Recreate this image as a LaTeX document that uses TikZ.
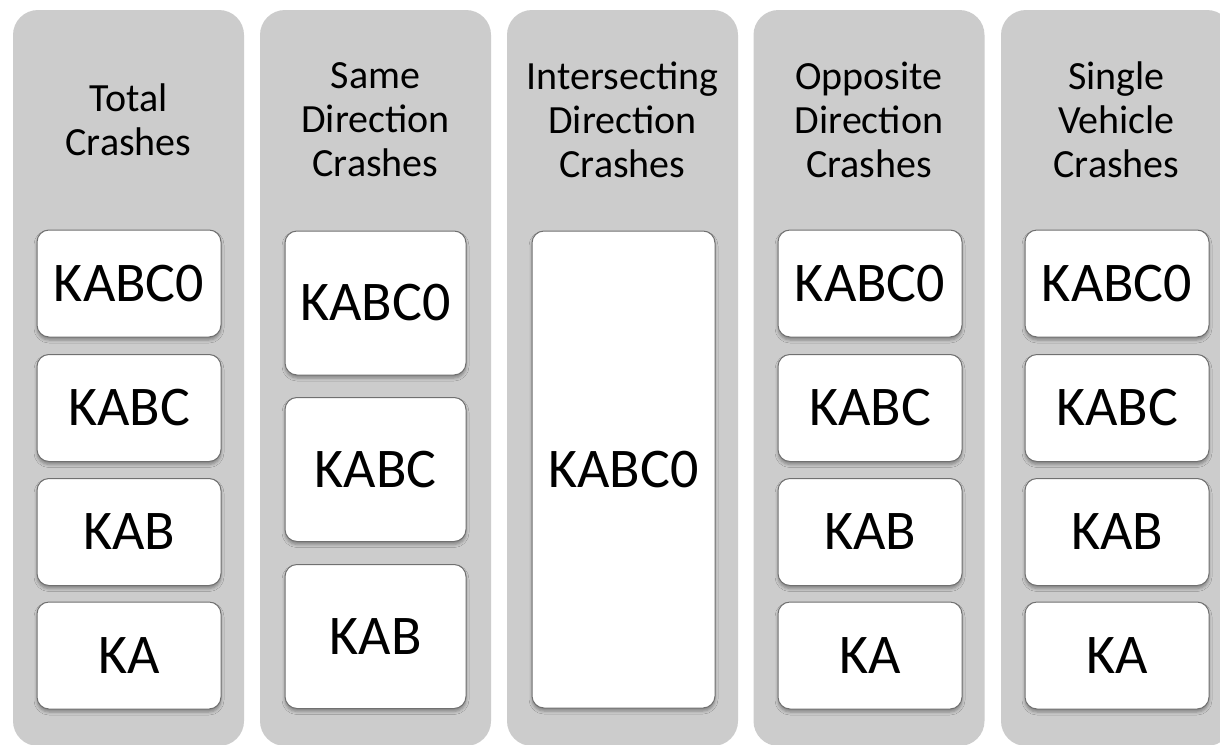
\documentclass[tikz,border=0pt]{standalone}
\usepackage{fontspec}
\setmainfont{Carlito}
\usetikzlibrary{shadows.blur}
\definecolor{colgray}{HTML}{CCCCCC}
\definecolor{boxline}{HTML}{707070}
\begin{document}
\begin{tikzpicture}[x=1pt,y=-1pt,
  column/.style={fill=colgray, draw=none, rounded corners=25pt, inner sep=0pt,
    minimum width=231pt, minimum height=736pt},
  header/.style={align=center, font=\fontsize{40}{44}\selectfont, text=black, inner sep=0pt},
  cbox/.style={fill=white, draw=boxline, line width=1pt, rounded corners=12pt, inner sep=0pt,
    minimum width=184pt, font=\fontsize{56}{60}\selectfont, text=black,
    blur shadow={shadow xshift=0pt, shadow yshift=-3pt, shadow blur radius=3pt, shadow opacity=35}}]
\useasboundingbox (0,0) rectangle (1220,744);
\clip (0,0) rectangle (1220,744);
\fill[white] (0,0) rectangle (1220,744);
% columns
\node[column] (col1) at (128.5,378) {};
\node[column] (col2) at (375.5,378) {};
\node[column] (col3) at (622.5,378) {};
\node[column] (col4) at (869,378) {};
\node[column] (col5) at (1116.5,378) {};
% headers
\node[header] (h1) at (128.5,120) {Total\\Crashes};
\node[header] (h2) at (375.5,120) {Same\\Direction\\Crashes};
\node[header] (h3) at (622.5,120) {Intersecting\\Direction\\Crashes};
\node[header] (h4) at (869,120) {Opposite\\Direction\\Crashes};
\node[header] (h5) at (1116.5,120) {Single\\Vehicle\\Crashes};
% column 1
\node[cbox, minimum height=107pt] (a1) at (129,283.5) {KABC0};
\node[cbox, minimum height=107pt] (a2) at (129,408) {KABC};
\node[cbox, minimum height=107pt] (a3) at (129,532) {KAB};
\node[cbox, minimum height=107pt] (a4) at (129,655.5) {KA};
% column 2
\node[cbox, minimum height=144pt, minimum width=181pt] (b1) at (375.5,303) {KABC0};
\node[cbox, minimum height=144pt, minimum width=181pt] (b2) at (375.5,469.5) {KABC};
\node[cbox, minimum height=144pt, minimum width=181pt] (b3) at (375.5,636.5) {KAB};
% column 3
\node[cbox, minimum height=477pt, minimum width=183pt] (c1) at (623.5,469.5) {KABC0};
% column 4
\node[cbox, minimum height=107pt] (d1) at (870,283.5) {KABC0};
\node[cbox, minimum height=107pt] (d2) at (870,408) {KABC};
\node[cbox, minimum height=107pt] (d3) at (870,532) {KAB};
\node[cbox, minimum height=107pt] (d4) at (870,655.5) {KA};
% column 5
\node[cbox, minimum height=107pt] (e1) at (1117,283.5) {KABC0};
\node[cbox, minimum height=107pt] (e2) at (1117,408) {KABC};
\node[cbox, minimum height=107pt] (e3) at (1117,532) {KAB};
\node[cbox, minimum height=107pt] (e4) at (1117,655.5) {KA};
\end{tikzpicture}
\end{document}
